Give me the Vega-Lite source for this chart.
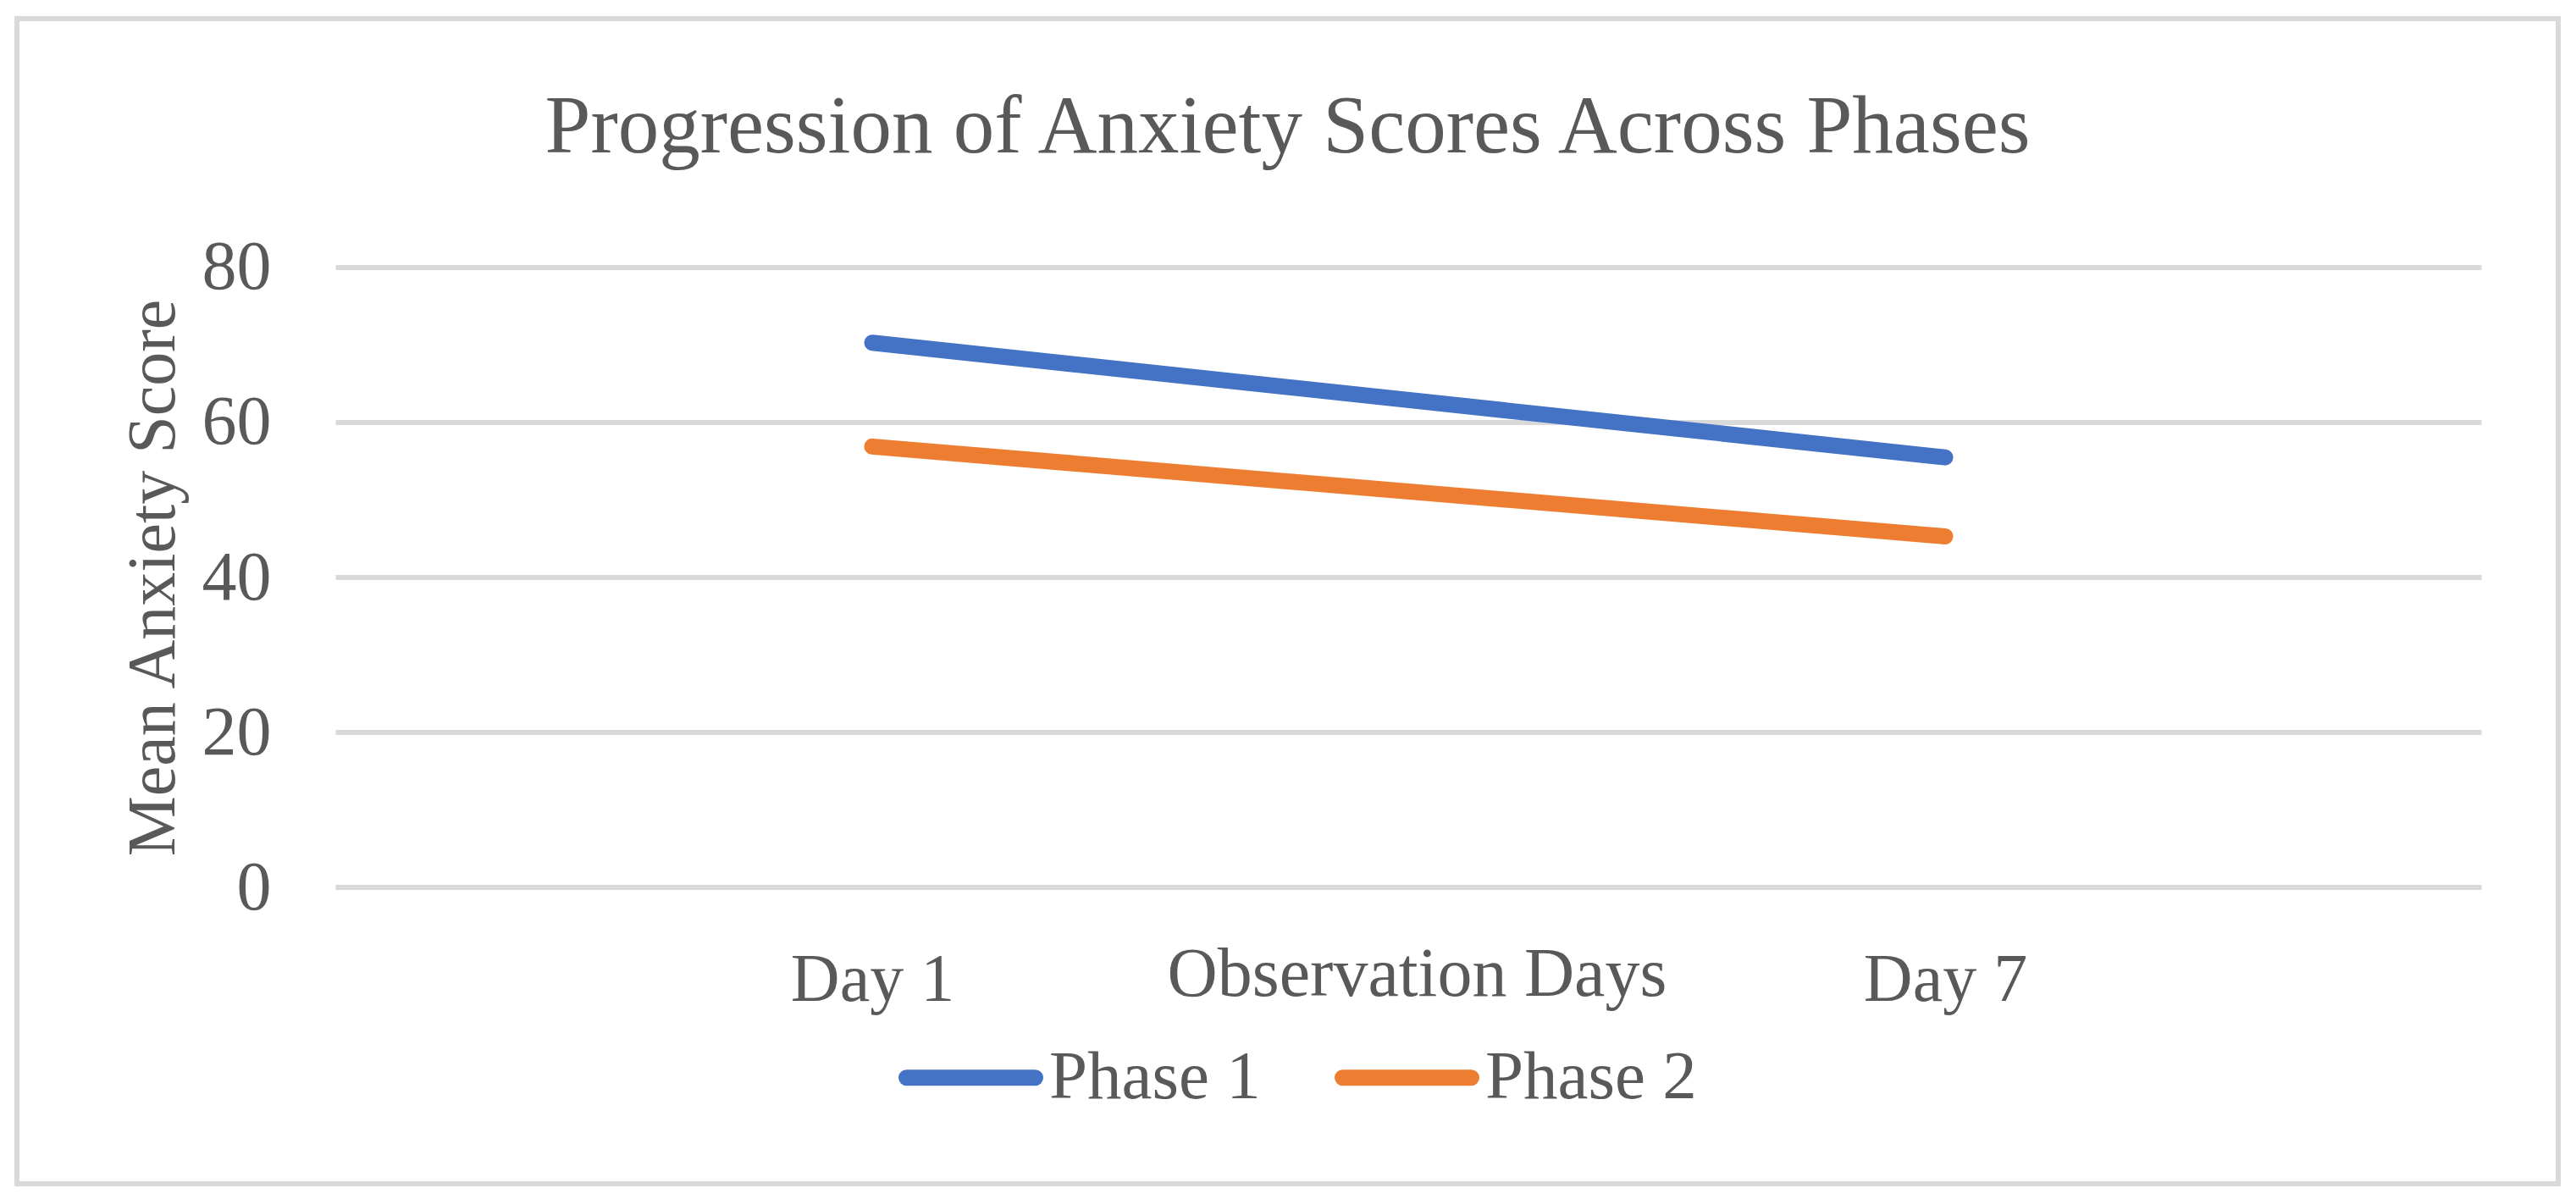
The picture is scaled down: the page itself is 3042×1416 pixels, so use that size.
{
  "$schema": "https://vega.github.io/schema/vega-lite/v6.json",
  "width": 3001,
  "height": 1376,
  "autosize": {"type": "none"},
  "padding": {"left": 20, "top": 22, "right": 21, "bottom": 18},
  "background": "white",
  "config": {
    "view": {"stroke": "#d9d9d9", "strokeWidth": 6},
    "font": "Liberation Serif"
  },
  "title": {
    "text": "Progression of Anxiety Scores Across Phases",
    "fontSize": 97,
    "font": "Liberation Serif",
    "fontWeight": "normal",
    "color": "#595959",
    "anchor": "middle",
    "frame": "group",
    "baseline": "alphabetic",
    "offset": 0,
    "limit": 0,
    "dy": 255
  },
  "datasets": {
    "scores": [
      {"day": 1, "phase": "Phase 1", "score": 70.3},
      {"day": 7, "phase": "Phase 1", "score": 55.5},
      {"day": 1, "phase": "Phase 2", "score": 56.9},
      {"day": 7, "phase": "Phase 2", "score": 45.3}
    ],
    "grid": [
      {"score": 0}, {"score": 20}, {"score": 40}, {"score": 60}, {"score": 80}
    ]
  },
  "layer": [
    {
      "data": {"name": "grid"},
      "mark": {"type": "rule", "stroke": "#d9d9d9", "strokeWidth": 6},
      "encoding": {
        "y": {"field": "score", "type": "quantitative", "title": "Mean Anxiety Score",
              "scale": {"domain": [-38.25, 112.13], "nice": false, "zero": false}},
        "x": {"datum": -2, "type": "quantitative", "scale": {"domain": [-3.783, 10.4285], "nice": false, "zero": false}},
        "x2": {"datum": 10}
      }
    },
    {
      "data": {"name": "scores"},
      "mark": {"type": "line", "strokeWidth": 19, "strokeCap": "round"},
      "encoding": {
        "x": {
          "field": "day", "type": "quantitative",
          "scale": {"domain": [-3.783, 10.4285], "nice": false, "zero": false},
          "axis": {
            "values": [1, 7],
            "labelExpr": "'Day ' + datum.value",
            "title": "Observation Days",
            "offset": -350,
            "domain": false, "ticks": false, "tickSize": 0, "grid": false,
            "labelFontSize": 80, "labelFont": "Liberation Serif", "labelColor": "#595959",
            "labelBaseline": "alphabetic", "labelPadding": 133, "labelLimit": 0,
            "labelOverlap": false,
            "titleFontSize": 82, "titleFont": "Liberation Serif", "titleFontWeight": "normal", "titleColor": "#595959",
            "titleX": 1653, "titleY": 127, "titleBaseline": "alphabetic", "titleAlign": "center", "titleLimit": 0
          }
        },
        "y": {
          "field": "score", "type": "quantitative", "title": "Mean Anxiety Score",
          "scale": {"domain": [-38.25, 112.13], "nice": false, "zero": false},
          "axis": {
            "values": [0, 20, 40, 60, 80],
            "offset": -377,
            "domain": false, "ticks": false, "tickSize": 0, "grid": false,
            "labelFontSize": 82, "labelFont": "Liberation Serif", "labelColor": "#595959",
            "labelPadding": 77, "labelLimit": 0,
            "titleFontSize": 80, "titleFont": "Liberation Serif", "titleFontWeight": "normal", "titleColor": "#595959",
            "titleX": -192, "titleY": 660, "titleBaseline": "alphabetic", "titleAlign": "center", "titleAngle": -90, "titleLimit": 0
          }
        },
        "color": {
          "field": "phase", "type": "nominal",
          "scale": {"domain": ["Phase 1", "Phase 2"], "range": ["#4472C4", "#ED7D31"]},
          "legend": {
            "title": null,
            "orient": "none",
            "legendX": 1041,
            "legendY": 1165,
            "direction": "horizontal",
            "columns": 2,
            "symbolType": "stroke",
            "symbolSize": 23104,
            "symbolStrokeWidth": 19,
            "labelFontSize": 81,
            "labelFont": "Liberation Serif",
            "labelColor": "#595959",
            "labelOffset": 7,
            "labelLimit": 0,
            "columnPadding": 58,
            "padding": 0,
            "encode": {"symbols": {"update": {"strokeCap": {"value": "round"}, "strokeWidth": {"value": 19}}}}
          }
        }
      }
    }
  ]
}
